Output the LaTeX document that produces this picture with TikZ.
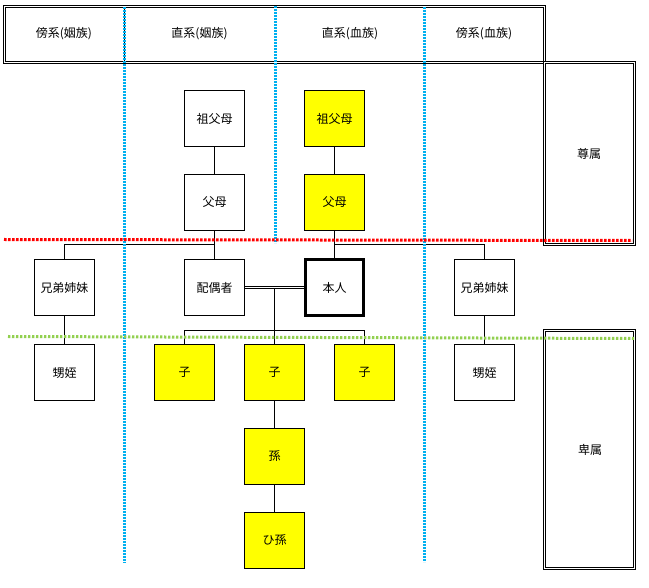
\documentclass[tikz,border=0pt]{standalone}
\usepackage{fontspec}
\newfontfamily\jp{Noto Sans CJK JP}
\definecolor{dotblue}{RGB}{0,176,240}
\definecolor{dotred}{RGB}{255,0,0}
\definecolor{dotgreen}{RGB}{146,208,80}
\definecolor{kin}{RGB}{255,255,0}
\begin{document}
\begin{tikzpicture}[x=1pt,y=-1pt,
  every node/.style={font=\jp\fontsize{12}{14}\selectfont, inner sep=0pt, outer sep=0pt},
  person/.style={draw, line width=1pt, minimum width=60pt, minimum height=56pt, fill=white},
  blood/.style={person, fill=kin},
  dbox/.style={draw, double, line width=1pt, double distance=1pt},
  link/.style={line width=1pt},
  bluedot/.style={dotblue, line width=3pt, dash pattern=on 2pt off 1pt},
  reddot/.style={dotred, line width=3pt, dash pattern=on 2.7pt off 1.3pt},
  greendot/.style={dotgreen, line width=3pt, dash pattern=on 2.4pt off 1.6pt}]
\useasboundingbox (0,0) rectangle (649,588);
\fill[white] (0,0) rectangle (649,588);

% header and side boxes
\node[dbox, minimum width=540pt, minimum height=56pt] (hdr) at (274.5,34.5) {};
\draw[link] (124.5,7) coordinate (hd1) -- (124.5,62) coordinate (hd2);
\node (h1) at (64,34) {傍系(姻族)};
\node (h2) at (199.5,34) {直系(姻族)};
\node (h3) at (350,34) {直系(血族)};
\node (h4) at (484,34) {傍系(血族)};
\node[dbox, minimum width=90pt, minimum height=182pt] (sonzoku) at (589.5,153.5) {};
\node (sonzokuT) at (589,154) {尊属};
\node[dbox, minimum width=90pt, minimum height=238pt] (hizoku) at (589.5,449.5) {};
\node (hizokuT) at (590,450) {卑属};

% persons
\node[person] (gpIn) at (214.5,118.5) {祖父母};
\node[blood]  (gpBl) at (334.5,118.5) {祖父母};
\node[person] (paIn) at (214.5,202.5) {父母};
\node[blood]  (paBl) at (334.5,202.5) {父母};
\node[person] (sibL) at (64.5,287.5) {兄弟姉妹};
\node[person] (sp)   at (214.5,287.5) {配偶者};
\node[person, line width=3pt, minimum width=58pt, minimum height=56pt] (me) at (334.5,287.5) {本人};
\node[person] (sibR) at (484.5,287.5) {兄弟姉妹};
\node[person] (neL)  at (64.5,372.5) {甥姪};
\node[person] (neR)  at (484.5,372.5) {甥姪};
\node[blood]  (c1)   at (184.5,372.5) {子};
\node[blood]  (c2)   at (274.5,372.5) {子};
\node[blood]  (c3)   at (364.5,372.5) {子};
\node[blood]  (gc)   at (274.5,456.5) {孫};
\node[blood]  (ggc)  at (274.5,540.5) {ひ孫};

% connectors
\draw[link] (gpIn) -- (paIn);
\draw[link] (gpBl) -- (paBl);
\draw[link] (paIn) -- (sp);
\draw[link] (paBl) -- (me);
\draw[link] (sibL.north) |- (214.5,244.5) coordinate (jL);
\draw[link] (sibR.north) |- (334.5,244.5) coordinate (jR);
\draw[link] (sibL) -- (neL);
\draw[link] (sibR) -- (neR);
\draw[link] ([yshift=1pt]sp.east) -- ([yshift=1pt]me.west);
\draw[link] ([yshift=-1pt]sp.east) -- ([yshift=-1pt]me.west);
\coordinate (mar) at (274.5,289);
\draw[link] (mar) -- (c2);
\draw[link] (c1.north) |- (274.5,330.5) coordinate (jc) -| (c3.north);
\draw[link] (c2) -- (gc);
\draw[link] (gc) -- (ggc);

% dotted guide lines
\draw[bluedot] (124.5,7) coordinate (b1a) -- (124.5,563) coordinate (b1b);
\draw[bluedot] (275.5,6) coordinate (b2a) -- (275.5,243) coordinate (b2b);
\draw[bluedot] (424.5,7) coordinate (b3a) -- (424.5,562) coordinate (b3b);
\draw[reddot] (4,239.5) coordinate (r1) -- (632,240.5) coordinate (r2);
\draw[greendot] (8,336.5) coordinate (g1) -- (634,338.5) coordinate (g2);
\end{tikzpicture}
\end{document}
